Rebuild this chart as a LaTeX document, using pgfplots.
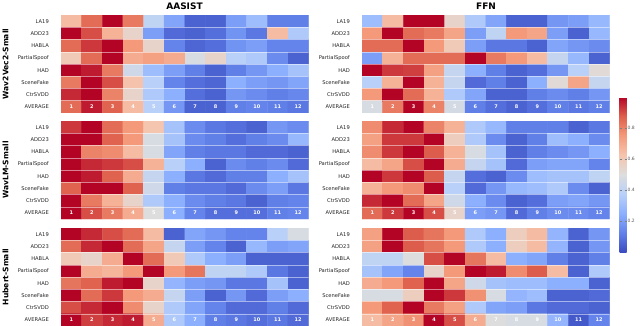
\documentclass[border=0pt]{standalone}
\usepackage{pgfplots}
\pgfplotsset{compat=1.18}
\usepackage{fontspec}
\setmainfont{DejaVu Sans}
\pgfplotsset{
  colormap={coolwarm}{rgb255(0)=(59,76,192) rgb255(1)=(98,130,234) rgb255(2)=(141,176,254) rgb255(3)=(184,208,249) rgb255(4)=(221,221,221) rgb255(5)=(245,196,173) rgb255(6)=(244,154,123) rgb255(7)=(222,96,77) rgb255(8)=(180,4,38)},
  hm/.style={scale only axis, width=247.5bp, height=98bp, anchor=north west,
    xmin=-0.5, xmax=11.5, ymin=-0.5, ymax=7.5, y dir=reverse, enlargelimits=false,
    axis line style={draw=none}, xtick=\empty, ytick={0,1,2,3,4,5,6,7},
    yticklabels={LA19,ADD23,HABLA,PartialSpoof,HAD,SceneFake,CtrSVDD,AVERAGE},
    major tick length=0pt,
    yticklabel style={font=\fontsize{5.2}{6}\selectfont, inner sep=0pt, xshift=-12bp, text=black!85},
    colormap name=coolwarm, point meta min=0, point meta max=1},
  hmplot/.style={matrix plot*, mesh/cols=12, point meta=explicit}
}
\newcommand{\decor}{%
  \pgfplotsinvokeforeach{0.5,1.5,2.5,3.5,4.5,5.5,6.5}{\draw[white, opacity=0.5, line width=0.5bp] (axis cs:-0.5,##1) -- (axis cs:11.5,##1);}%
  \pgfplotsinvokeforeach{0,...,11}{\node[text=white, font=\bfseries\fontsize{5}{6}\selectfont, inner sep=0pt] at (axis cs:##1,7) {\pgfmathparse{int(##1+1)}\pgfmathresult};}%
}
\begin{document}
\begin{tikzpicture}
\path[use as bounding box] (0,0) rectangle (640bp,-326bp);
% titles
\node[font=\bfseries\fontsize{9}{10}\selectfont] at (184.5bp,-6.5bp) {AASIST};
\node[font=\bfseries\fontsize{9}{10}\selectfont] at (486bp,-6.5bp) {FFN};
\node[font=\bfseries\fontsize{7.6}{8}\selectfont, rotate=90] at (5.5bp,-64bp) {Wav2Vec2-Small};
\node[font=\bfseries\fontsize{7.6}{8}\selectfont, rotate=90] at (5.5bp,-170bp) {WavLM-Small};
\node[font=\bfseries\fontsize{7.6}{8}\selectfont, rotate=90] at (5.5bp,-277bp) {Hubert-Small};

% Panel 1: Wav2Vec2 AASIST
\begin{axis}[hm, at={(61bp,-15bp)}]
\addplot[hmplot] coordinates {
(0,0)[0.65] (1,0)[0.85] (2,0)[1.0] (3,0)[0.82] (4,0)[0.40] (5,0)[0.22] (6,0)[0.05] (7,0)[0.05] (8,0)[0.20] (9,0)[0.30] (10,0)[0.12] (11,0)[0.12]
(0,1)[1.0] (1,1)[0.90] (2,1)[0.68] (3,1)[0.55] (4,1)[0.20] (5,1)[0.07] (6,1)[0.05] (7,1)[0.08] (8,1)[0.17] (9,1)[0.10] (10,1)[0.65] (11,1)[0.35]
(0,2)[0.85] (1,2)[0.93] (2,2)[1.0] (3,2)[0.75] (4,2)[0.55] (5,2)[0.13] (6,2)[0.06] (7,2)[0.08] (8,2)[0.17] (9,2)[0.20] (10,2)[0.13] (11,2)[0.13]
(0,3)[0.60] (1,3)[0.85] (2,3)[1.0] (3,3)[0.70] (4,3)[0.73] (5,3)[0.70] (6,3)[0.48] (7,3)[0.55] (8,3)[0.38] (9,3)[0.35] (10,3)[0.15] (11,3)[0.05]
(0,4)[1.0] (1,4)[0.97] (2,4)[0.82] (3,4)[0.45] (4,4)[0.30] (5,4)[0.20] (6,4)[0.12] (7,4)[0.05] (8,4)[0.12] (9,4)[0.18] (10,4)[0.25] (11,4)[0.32]
(0,5)[0.82] (1,5)[1.0] (2,5)[0.90] (3,5)[0.63] (4,5)[0.38] (5,5)[0.13] (6,5)[0.08] (7,5)[0.06] (8,5)[0.25] (9,5)[0.20] (10,5)[0.18] (11,5)[0.22]
(0,6)[0.95] (1,6)[1.0] (2,6)[0.80] (3,6)[0.55] (4,6)[0.35] (5,6)[0.25] (6,6)[0.08] (7,6)[0.05] (8,6)[0.18] (9,6)[0.15] (10,6)[0.12] (11,6)[0.14]
(0,7)[0.85] (1,7)[0.97] (2,7)[0.87] (3,7)[0.65] (4,7)[0.38] (5,7)[0.18] (6,7)[0.05] (7,7)[0.05] (8,7)[0.12] (9,7)[0.13] (10,7)[0.12] (11,7)[0.10]
};
\decor
\end{axis}

% Panel 2: Wav2Vec2 FFN
\begin{axis}[hm, at={(362bp,-15bp)}]
\addplot[hmplot] coordinates {
(0,0)[0.30] (1,0)[0.65] (2,0)[1.0] (3,0)[1.0] (4,0)[0.55] (5,0)[0.35] (6,0)[0.22] (7,0)[0.05] (8,0)[0.05] (9,0)[0.18] (10,0)[0.20] (11,0)[0.28]
(0,1)[0.75] (1,1)[1.0] (2,1)[0.85] (3,1)[0.82] (4,1)[0.72] (5,1)[0.20] (6,1)[0.40] (7,1)[0.75] (8,1)[0.72] (9,1)[0.20] (10,1)[0.05] (11,1)[0.28]
(0,2)[0.85] (1,2)[0.85] (2,2)[1.0] (3,2)[0.75] (4,2)[0.60] (5,2)[0.20] (6,2)[0.10] (7,2)[0.10] (8,2)[0.05] (9,2)[0.22] (10,2)[0.18] (11,2)[0.15]
(0,3)[0.20] (1,3)[0.68] (2,3)[0.85] (3,3)[0.85] (4,3)[0.85] (5,3)[1.0] (6,3)[0.82] (7,3)[0.75] (8,3)[0.65] (9,3)[0.42] (10,3)[0.28] (11,3)[0.05]
(0,4)[1.0] (1,4)[0.93] (2,4)[0.92] (3,4)[0.73] (4,4)[0.42] (5,4)[0.25] (6,4)[0.12] (7,4)[0.05] (8,4)[0.08] (9,4)[0.18] (10,4)[0.38] (11,4)[0.52]
(0,5)[0.38] (1,5)[0.68] (2,5)[1.0] (3,5)[0.68] (4,5)[0.42] (5,5)[0.07] (6,5)[0.12] (7,5)[0.05] (8,5)[0.25] (9,5)[0.52] (10,5)[0.72] (11,5)[0.42]
(0,6)[0.75] (1,6)[1.0] (2,6)[0.85] (3,6)[0.68] (4,6)[0.35] (5,6)[0.22] (6,6)[0.05] (7,6)[0.05] (8,6)[0.12] (9,6)[0.15] (10,6)[0.12] (11,6)[0.18]
(0,7)[0.48] (1,7)[0.82] (2,7)[1.0] (3,7)[0.80] (4,7)[0.47] (5,7)[0.12] (6,7)[0.08] (7,7)[0.05] (8,7)[0.08] (9,7)[0.12] (10,7)[0.10] (11,7)[0.12]
};
\decor
\end{axis}

% Panel 3: WavLM AASIST
\begin{axis}[hm, at={(61bp,-121bp)}]
\addplot[hmplot] coordinates {
(0,0)[0.93] (1,0)[1.0] (2,0)[0.85] (3,0)[0.75] (4,0)[0.62] (5,0)[0.32] (6,0)[0.15] (7,0)[0.10] (8,0)[0.08] (9,0)[0.05] (10,0)[0.18] (11,0)[0.15]
(0,1)[1.0] (1,1)[1.0] (2,1)[0.87] (3,1)[0.75] (4,1)[0.48] (5,1)[0.32] (6,1)[0.15] (7,1)[0.12] (8,1)[0.08] (9,1)[0.12] (10,1)[0.15] (11,1)[0.28]
(0,2)[1.0] (1,2)[0.80] (2,2)[0.78] (3,2)[0.65] (4,2)[0.48] (5,2)[0.22] (6,2)[0.12] (7,2)[0.10] (8,2)[0.10] (9,2)[0.07] (10,2)[0.07] (11,2)[0.05]
(0,3)[1.0] (1,3)[0.95] (2,3)[0.93] (3,3)[0.90] (4,3)[0.68] (5,3)[0.38] (6,3)[0.25] (7,3)[0.05] (8,3)[0.15] (9,3)[0.12] (10,3)[0.15] (11,3)[0.07]
(0,4)[1.0] (1,4)[0.97] (2,4)[0.87] (3,4)[0.70] (4,4)[0.42] (5,4)[0.25] (6,4)[0.10] (7,4)[0.07] (8,4)[0.12] (9,4)[0.12] (10,4)[0.25] (11,4)[0.32]
(0,5)[0.87] (1,5)[1.0] (2,5)[1.0] (3,5)[0.87] (4,5)[0.45] (5,5)[0.12] (6,5)[0.10] (7,5)[0.10] (8,5)[0.07] (9,5)[0.15] (10,5)[0.20] (11,5)[0.10]
(0,6)[1.0] (1,6)[0.82] (2,6)[0.68] (3,6)[0.55] (4,6)[0.35] (5,6)[0.25] (6,6)[0.15] (7,6)[0.12] (8,6)[0.10] (9,6)[0.05] (10,6)[0.12] (11,6)[0.13]
(0,7)[1.0] (1,7)[0.90] (2,7)[0.82] (3,7)[0.70] (4,7)[0.50] (5,7)[0.25] (6,7)[0.13] (7,7)[0.08] (8,7)[0.08] (9,7)[0.08] (10,7)[0.12] (11,7)[0.13]
};
\decor
\end{axis}

% Panel 4: WavLM FFN (with colorbar)
\begin{axis}[hm, at={(362bp,-121bp)},
  colorbar, colorbar style={at={(parent axis.north east)}, anchor=north west,
    xshift=1.5bp, yshift=24bp, width=7bp, height=155bp,
    ytick={0.2,0.4,0.6,0.8}, yticklabels={0.2,0.4,0.6,0.8},
    yticklabel style={font=\fontsize{4.5}{5}\selectfont, text=black!65, inner sep=1bp},
    major tick length=2bp, tick style={black!50, line width=0.3bp},
    axis line style={draw=none}}]
\addplot[hmplot] coordinates {
(0,0)[0.78] (1,0)[0.95] (2,0)[1.0] (3,0)[0.80] (4,0)[0.68] (5,0)[0.35] (6,0)[0.28] (7,0)[0.12] (8,0)[0.12] (9,0)[0.12] (10,0)[0.05] (11,0)[0.10]
(0,1)[0.73] (1,1)[0.93] (2,1)[0.93] (3,1)[1.0] (4,1)[0.58] (5,1)[0.35] (6,1)[0.15] (7,1)[0.05] (8,1)[0.12] (9,1)[0.30] (10,1)[0.25] (11,1)[0.15]
(0,2)[0.78] (1,2)[0.93] (2,2)[1.0] (3,2)[0.88] (4,2)[0.68] (5,2)[0.48] (6,2)[0.32] (7,2)[0.05] (8,2)[0.12] (9,2)[0.15] (10,2)[0.18] (11,2)[0.25]
(0,3)[0.65] (1,3)[0.72] (2,3)[0.90] (3,3)[1.0] (4,3)[0.70] (5,3)[0.42] (6,3)[0.32] (7,3)[0.07] (8,3)[0.20] (9,3)[0.22] (10,3)[0.22] (11,3)[0.13]
(0,4)[1.0] (1,4)[0.93] (2,4)[1.0] (3,4)[0.88] (4,4)[0.42] (5,4)[0.08] (6,4)[0.05] (7,4)[0.15] (8,4)[0.30] (9,4)[0.32] (10,4)[0.32] (11,4)[0.40]
(0,5)[0.68] (1,5)[0.75] (2,5)[0.78] (3,5)[1.0] (4,5)[0.38] (5,5)[0.07] (6,5)[0.18] (7,5)[0.28] (8,5)[0.30] (9,5)[0.35] (10,5)[0.15] (11,5)[0.05]
(0,6)[0.95] (1,6)[1.0] (2,6)[0.85] (3,6)[0.72] (4,6)[0.45] (5,6)[0.25] (6,6)[0.15] (7,6)[0.05] (8,6)[0.08] (9,6)[0.20] (10,6)[0.22] (11,6)[0.18]
(0,7)[0.85] (1,7)[0.93] (2,7)[1.0] (3,7)[0.90] (4,7)[0.55] (5,7)[0.20] (6,7)[0.18] (7,7)[0.07] (8,7)[0.12] (9,7)[0.15] (10,7)[0.15] (11,7)[0.13]
};
\decor
\end{axis}

% Panel 5: Hubert AASIST
\begin{axis}[hm, at={(61bp,-228bp)}]
\addplot[hmplot] coordinates {
(0,0)[1.0] (1,0)[0.95] (2,0)[0.90] (3,0)[0.85] (4,0)[0.65] (5,0)[0.05] (6,0)[0.22] (7,0)[0.18] (8,0)[0.13] (9,0)[0.13] (10,0)[0.38] (11,0)[0.48]
(0,1)[0.85] (1,1)[0.95] (2,1)[1.0] (3,1)[0.85] (4,1)[0.72] (5,1)[0.42] (6,1)[0.20] (7,1)[0.13] (8,1)[0.05] (9,1)[0.28] (10,1)[0.20] (11,1)[0.22]
(0,2)[0.60] (1,2)[0.55] (2,2)[0.70] (3,2)[1.0] (4,2)[0.85] (5,2)[0.60] (6,2)[0.35] (7,2)[0.25] (8,2)[0.20] (9,2)[0.05] (10,2)[0.05] (11,2)[0.05]
(0,3)[1.0] (1,3)[0.70] (2,3)[0.67] (3,3)[0.75] (4,3)[1.0] (5,3)[0.75] (6,3)[0.83] (7,3)[0.40] (8,3)[0.40] (9,3)[0.35] (10,3)[0.10] (11,3)[0.05]
(0,4)[0.83] (1,4)[0.87] (2,4)[0.97] (3,4)[1.0] (4,4)[0.55] (5,4)[0.27] (6,4)[0.20] (7,4)[0.18] (8,4)[0.10] (9,4)[0.10] (10,4)[0.32] (11,4)[0.05]
(0,5)[1.0] (1,5)[0.85] (2,5)[0.93] (3,5)[0.75] (4,5)[0.70] (5,5)[0.42] (6,5)[0.20] (7,5)[0.05] (8,5)[0.18] (9,5)[0.07] (10,5)[0.20] (11,5)[0.25]
(0,6)[0.90] (1,6)[0.95] (2,6)[1.0] (3,6)[0.78] (4,6)[0.55] (5,6)[0.35] (6,6)[0.22] (7,6)[0.13] (8,6)[0.07] (9,6)[0.07] (10,6)[0.12] (11,6)[0.07]
(0,7)[1.0] (1,7)[0.92] (2,7)[0.95] (3,7)[0.97] (4,7)[0.70] (5,7)[0.35] (6,7)[0.25] (7,7)[0.12] (8,7)[0.10] (9,7)[0.08] (10,7)[0.10] (11,7)[0.07]
};
\decor
\end{axis}

% Panel 6: Hubert FFN
\begin{axis}[hm, at={(362bp,-228bp)}]
\addplot[hmplot] coordinates {
(0,0)[0.73] (1,0)[1.0] (2,0)[0.88] (3,0)[0.83] (4,0)[0.75] (5,0)[0.35] (6,0)[0.25] (7,0)[0.58] (8,0)[0.65] (9,0)[0.27] (10,0)[0.05] (11,0)[0.18]
(0,1)[0.73] (1,1)[1.0] (2,1)[0.88] (3,1)[0.83] (4,1)[0.75] (5,1)[0.35] (6,1)[0.25] (7,1)[0.58] (8,1)[0.65] (9,1)[0.27] (10,1)[0.05] (11,1)[0.18]
(0,2)[0.40] (1,2)[0.40] (2,2)[0.50] (3,2)[0.90] (4,2)[1.0] (5,2)[0.83] (6,2)[0.65] (7,2)[0.25] (8,2)[0.22] (9,2)[0.12] (10,2)[0.05] (11,2)[0.12]
(0,3)[0.32] (1,3)[0.22] (2,3)[0.13] (3,3)[0.55] (4,3)[0.75] (5,3)[1.0] (6,3)[0.97] (7,3)[0.78] (8,3)[0.88] (9,3)[0.65] (10,3)[0.05] (11,3)[0.35]
(0,4)[0.70] (1,4)[0.75] (2,4)[0.87] (3,4)[1.0] (4,4)[0.72] (5,4)[0.45] (6,4)[0.32] (7,4)[0.30] (8,4)[0.30] (9,4)[0.25] (10,4)[0.25] (11,4)[0.05]
(0,5)[0.48] (1,5)[0.48] (2,5)[0.58] (3,5)[1.0] (4,5)[0.93] (5,5)[0.77] (6,5)[0.48] (7,5)[0.27] (8,5)[0.30] (9,5)[0.05] (10,5)[0.05] (11,5)[0.07]
(0,6)[0.75] (1,6)[0.87] (2,6)[1.0] (3,6)[0.82] (4,6)[0.73] (5,6)[0.35] (6,6)[0.22] (7,6)[0.20] (8,6)[0.10] (9,6)[0.07] (10,6)[0.07] (11,6)[0.05]
(0,7)[0.65] (1,7)[0.72] (2,7)[0.77] (3,7)[1.0] (4,7)[0.90] (5,7)[0.70] (6,7)[0.50] (7,7)[0.48] (8,7)[0.48] (9,7)[0.27] (10,7)[0.03] (11,7)[0.13]
};
\decor
\end{axis}
\end{tikzpicture}
\end{document}
